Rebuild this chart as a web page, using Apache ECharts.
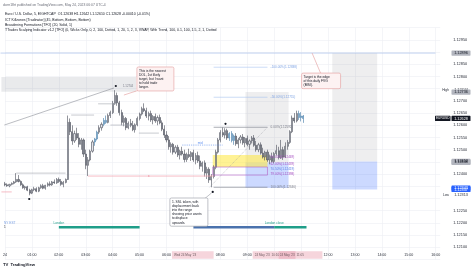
<!DOCTYPE html>
<html><head><meta charset="utf-8">
<script src="https://cdn.jsdelivr.net/npm/echarts@6/dist/echarts.min.js"></script>
<style>html,body{margin:0;padding:0;background:#fff;}#c{width:474px;height:271px;}</style>
</head><body><div id="c"></div>
<script>
// ---- DATA (EURUSD 5-minute candles, 24 May 2023) ----
const opens = [1.12360,1.12356,1.12352,1.12358,1.12362,1.12368,1.12378,1.12370,1.12356,1.12344,1.12348,1.12334,1.12322,1.12336,1.12340,1.12330,1.12344,1.12352,1.12342,1.12354,1.12360,1.12356,1.12368,1.12364,1.12378,1.12370,1.12358,1.12366,1.12378,1.12612,1.12574,1.12536,1.12566,1.12548,1.12522,1.12540,1.12482,1.12436,1.12458,1.12494,1.12532,1.12544,1.12572,1.12590,1.12604,1.12620,1.12612,1.12640,1.12652,1.12690,1.12722,1.12692,1.12652,1.12612,1.12628,1.12590,1.12608,1.12600,1.12582,1.12602,1.12628,1.12646,1.12668,1.12660,1.12638,1.12648,1.12622,1.12636,1.12618,1.12632,1.12610,1.12584,1.12560,1.12540,1.12512,1.12522,1.12490,1.12510,1.12478,1.12494,1.12482,1.12460,1.12480,1.12472,1.12488,1.12458,1.12476,1.12454,1.12432,1.12446,1.12404,1.12420,1.12376,1.12390,1.12428,1.12490,1.12540,1.12570,1.12560,1.12578,1.12548,1.12566,1.12538,1.12556,1.12524,1.12540,1.12552,1.12528,1.12546,1.12522,1.12536,1.12548,1.12518,1.12500,1.12520,1.12486,1.12470,1.12490,1.12458,1.12472,1.12452,1.12484,1.12496,1.12468,1.12500,1.12470,1.12514,1.12530,1.12574,1.12630,1.12618,1.12648,1.12632,1.12638];
const highs = [1.12368,1.12362,1.12360,1.12366,1.12372,1.12404,1.12396,1.12374,1.12362,1.12352,1.12352,1.12340,1.12340,1.12348,1.12346,1.12348,1.12358,1.12360,1.12356,1.12366,1.12370,1.12372,1.12378,1.12384,1.12386,1.12380,1.12372,1.12382,1.12640,1.12628,1.12600,1.12578,1.12590,1.12568,1.12548,1.12546,1.12500,1.12470,1.12500,1.12540,1.12548,1.12578,1.12600,1.12612,1.12630,1.12640,1.12648,1.12660,1.12700,1.12744,1.12734,1.12700,1.12664,1.12640,1.12634,1.12616,1.12626,1.12618,1.12608,1.12636,1.12652,1.12676,1.12690,1.12672,1.12656,1.12660,1.12642,1.12648,1.12640,1.12644,1.12620,1.12600,1.12576,1.12556,1.12530,1.12528,1.12518,1.12520,1.12500,1.12512,1.12500,1.12488,1.12504,1.12494,1.12500,1.12486,1.12492,1.12476,1.12452,1.12456,1.12430,1.12428,1.12400,1.12436,1.12500,1.12548,1.12580,1.12592,1.12588,1.12586,1.12572,1.12576,1.12562,1.12568,1.12548,1.12560,1.12564,1.12552,1.12558,1.12542,1.12556,1.12560,1.12536,1.12528,1.12530,1.12508,1.12496,1.12500,1.12480,1.12488,1.12490,1.12520,1.12512,1.12540,1.12512,1.12530,1.12540,1.12580,1.12640,1.12650,1.12660,1.12660,1.12654,1.12642];
const lows = [1.12350,1.12348,1.12346,1.12354,1.12358,1.12364,1.12366,1.12352,1.12340,1.12336,1.12330,1.12313,1.12318,1.12330,1.12326,1.12326,1.12340,1.12338,1.12336,1.12348,1.12350,1.12352,1.12360,1.12360,1.12364,1.12352,1.12346,1.12362,1.12376,1.12560,1.12520,1.12528,1.12540,1.12510,1.12500,1.12470,1.12420,1.12392,1.12452,1.12488,1.12516,1.12538,1.12564,1.12578,1.12596,1.12606,1.12608,1.12630,1.12646,1.12684,1.12680,1.12640,1.12600,1.12596,1.12580,1.12584,1.12592,1.12576,1.12570,1.12596,1.12620,1.12640,1.12654,1.12630,1.12620,1.12614,1.12604,1.12610,1.12600,1.12604,1.12576,1.12548,1.12530,1.12500,1.12488,1.12480,1.12482,1.12470,1.12460,1.12476,1.12448,1.12450,1.12466,1.12454,1.12450,1.12440,1.12446,1.12420,1.12410,1.12390,1.12380,1.12364,1.12346,1.12382,1.12420,1.12484,1.12530,1.12552,1.12546,1.12540,1.12536,1.12530,1.12520,1.12516,1.12506,1.12526,1.12520,1.12510,1.12514,1.12500,1.12526,1.12512,1.12492,1.12490,1.12480,1.12464,1.12456,1.12450,1.12440,1.12448,1.12444,1.12476,1.12460,1.12462,1.12458,1.12466,1.12500,1.12524,1.12568,1.12610,1.12612,1.12622,1.12616,1.12610];
const closes = [1.12356,1.12352,1.12358,1.12362,1.12368,1.12378,1.12370,1.12356,1.12344,1.12348,1.12334,1.12322,1.12336,1.12340,1.12330,1.12344,1.12352,1.12342,1.12354,1.12360,1.12356,1.12368,1.12364,1.12378,1.12370,1.12358,1.12366,1.12378,1.12612,1.12574,1.12536,1.12566,1.12548,1.12522,1.12540,1.12482,1.12436,1.12458,1.12494,1.12532,1.12544,1.12572,1.12590,1.12604,1.12620,1.12612,1.12640,1.12652,1.12690,1.12722,1.12692,1.12652,1.12612,1.12628,1.12590,1.12608,1.12600,1.12582,1.12602,1.12628,1.12646,1.12668,1.12660,1.12638,1.12648,1.12622,1.12636,1.12618,1.12632,1.12610,1.12584,1.12560,1.12540,1.12512,1.12522,1.12490,1.12510,1.12478,1.12494,1.12482,1.12460,1.12480,1.12472,1.12488,1.12458,1.12476,1.12454,1.12432,1.12446,1.12404,1.12420,1.12376,1.12390,1.12428,1.12490,1.12540,1.12570,1.12560,1.12578,1.12548,1.12566,1.12538,1.12556,1.12524,1.12540,1.12552,1.12528,1.12546,1.12522,1.12536,1.12548,1.12518,1.12500,1.12520,1.12486,1.12470,1.12490,1.12458,1.12472,1.12452,1.12484,1.12496,1.12468,1.12500,1.12470,1.12514,1.12530,1.12574,1.12630,1.12618,1.12648,1.12632,1.12638,1.12628];
const tintedCandles = [40,41,44,45,100,101,102,131,132,133];
const hourLabels = ['24','01:00','02:00','03:00','04:00','05:00','06:00','07:00','08:00','09:00','10:00','11:00','12:00','13:00','14:00','15:00','16:00'];
const hiddenTicks = ['1.12050','1.13000','1.12900','1.12750','1.12450','1.12350','1.12300'];
// fib levels: [label, price]
const fibLevels = [['-100.00%',1.12838],['-50.00%',1.12715],['0.00%',1.12592],['50.00%',1.12469],['62.00%',1.12439],['70.50%',1.12419],['79.00%',1.12398],['100.00%',1.12346]];
// position tools: [startSlot, endSlot, target, entry, stop]
const positions = [[107.2,126.4,1.12736,1.12448,1.12343],[145.9,165.9,1.12896,1.12452,1.12337]];
// sessions: [name, startSlot, endSlot]
const sessions = [['London',24,60],['New York',84,120],['London close',120,134.4]];

const FF = '"Liberation Sans", Arial, sans-serif';
const N_SLOTS = 195;
const slots = Array.from({length:N_SLOTS},(_,i)=>{const m=i*5;return String(Math.floor(m/60)).padStart(2,'0')+':'+String(m%60).padStart(2,'0');});
const candleData = opens.map((o,i)=>{
  const v=[o,closes[i],lows[i],highs[i]];
  if (tintedCandles.includes(i)) return {value:v,itemStyle:{color:'#bcd8ec',color0:'#6fa6cf',borderColor:'#3f79a6',borderColor0:'#3f79a6'}};
  return v;
});

const chart = echarts.init(document.getElementById('c'), null, {renderer:'canvas', width:474, height:271});
chart.setOption({
  animation:false,
  backgroundColor:'#ffffff',
  grid:{left:3.7, top:27.7, width:436.5, height:231.8},
  xAxis:[{type:'category', data:slots, boundaryGap:false, axisLine:{show:false}, axisTick:{show:false},
    axisLabel:{inside:true, margin:2.3, interval:(i)=>i%12===0, formatter:(v,i)=>hourLabels[i/12]||'', fontSize:3.6, color:'#2a2e39', fontFamily:FF},
    splitLine:{show:true, interval:(i)=>i%12===0, lineStyle:{color:'#eceff4', width:0.6}}},
   {type:'value', min:0, max:N_SLOTS-1, show:false}],
  yAxis:[{type:'value', position:'right', min:1.1205, max:1.13, interval:0.0005,
    axisLine:{show:false}, axisTick:{show:false},
    axisLabel:{margin:13, fontSize:3.9, color:'#2a2e39', fontFamily:FF, formatter:v=>{const s=v.toFixed(5);return hiddenTicks.includes(s)?'':s;}},
    splitLine:{lineStyle:{color:'#eceff4', width:0.6}}}],
  series:[{type:'candlestick', xAxisIndex:0, yAxisIndex:0, data:candleData, barWidth:1.6, clip:false, z:3,
    itemStyle:{color:'#e4e5ea', color0:'#80838d', borderColor:'#4a4e59', borderColor0:'#4a4e59', borderWidth:0.6}}]
});

const F = {xAxisIndex:1, yAxisIndex:0};
const px = (i,p)=>chart.convertToPixel(F,[i,p]);
const els = [];
function seg(i1,p1,i2,p2,color,w,dash,z){const a=px(i1,p1),b=px(i2,p2);els.push({type:'line',silent:true,z:z||5,shape:{x1:a[0],y1:a[1],x2:b[0],y2:b[1]},style:{stroke:color,lineWidth:w||0.6,lineDash:dash||null}});}
function box(i1,p1,i2,p2,fill,stroke,z){const a=px(i1,p1),b=px(i2,p2);els.push({type:'rect',silent:true,z:z||1,shape:{x:Math.min(a[0],b[0]),y:Math.min(a[1],b[1]),width:Math.abs(b[0]-a[0]),height:Math.abs(b[1]-a[1])},style:{fill:fill,stroke:stroke||null,lineWidth:0.6}});}
function txt(x,y,s,size,color,align,va,weight,z){els.push({type:'text',silent:true,z:z||8,x:x,y:y,style:{text:s,font:(weight||'normal')+' '+size+'px '+FF,fill:color,align:align||'left',textAlign:align||'left',verticalAlign:va||'middle',textVerticalAlign:va||'middle'}});}
function prect(x,y,w,h,fill,stroke,r,z){els.push({type:'rect',silent:true,z:z||8,shape:{x:x,y:y,width:w,height:h,r:r||0},style:{fill:fill,stroke:stroke||null,lineWidth:0.6}});}

// gray liquidity band & diagonal
box(-1.6,1.12798,58.4,1.12737,'rgba(120,123,134,0.16)',null,1);
seg(-0.3,1.12601,48.6,1.12753,'#8d9099',0.6);
// top target line
seg(-2,1.12896,191.9,1.12896,'#a8bfe9',0.7);
// position tools
positions.forEach(p=>{box(p[0],p[2],p[1],p[3],'rgba(120,123,134,0.13)',null,1);box(p[0],p[3],p[1],p[4],'rgba(41,98,255,0.24)',null,1);});
// yellow & purple zones
box(92.6,1.12478,117,1.12429,'rgba(255,232,60,0.55)',null,2);
box(92.6,1.12429,117,1.12396,null,'#b35fc4',4);
// fib lines
seg(93,1.12838,117,1.12838,'#a9c4f0',0.6);
seg(93,1.12715,117,1.12715,'#a9c4f0',0.6);
seg(93,1.12592,117,1.12592,'#9598a1',0.8);
seg(93,1.12346,117,1.12346,'#9598a1',0.8);
seg(91.2,1.12346,117,1.12592,'#9598a1',0.5,[1,1]);
const fibColors = {'-100.00%':'#7ea3e3','-50.00%':'#7ea3e3','0.00%':'#787b86','50.00%':'#a64fc0','62.00%':'#a64fc0','70.50%':'#5b7fe6','79.00%':'#a64fc0','100.00%':'#787b86'};
fibLevels.forEach(f=>{const a=px(118.4,f[1]);txt(a[0],a[1],f[0]+'('+f[1].toFixed(5)+')',3.1,fibColors[f[0]]);});
// broadening formation & swing lines
seg(5,1.12404,27,1.12404,'#a3a6af',0.6);
seg(29.5,1.12642,39.7,1.12642,'#a3a6af',0.6);
seg(41.5,1.12688,49.5,1.12688,'#a3a6af',0.6);
seg(47,1.12601,56,1.12601,'#a3a6af',0.6);
seg(59.7,1.12568,68.6,1.12568,'#a3a6af',0.6);
seg(-1.6,1.12327,3,1.12327,'#f2a1ad',0.7);
seg(37,1.12392,93,1.12392,'#f2a1ad',0.7);
(()=>{const a=px(64.1,1.12392);txt(a[0],a[1],'x',3,'#e57a8a','center');})();
seg(79,1.12519,97,1.12519,'#5b8def',0.6,[1.2,1]);
(()=>{const a=px(87,1.12519);txt(a[0],a[1]-2,'mid',3,'#5b8def','center');})();
// markers
[[49.4,1.12761],[10.8,1.12298],[98.3,1.12606],[92.6,1.12327]].forEach(m=>{const a=px(m[0],m[1]);els.push({type:'circle',silent:true,z:9,shape:{cx:a[0],cy:a[1],r:1.1},style:{fill:'#131722'}});});
(()=>{const a=px(52.6,1.12762);txt(a[0],a[1],'1.12744',2.8,'#787b86');})();
// callouts
function callout(i,p,w,lines,fill,stroke,ti,tp,ax,ay){
  const a=px(i,p), t=px(ti,tp);
  els.push({type:'line',silent:true,z:9,shape:{x1:a[0]+ax,y1:a[1]+ay,x2:t[0],y2:t[1]},style:{stroke:stroke,lineWidth:0.6}});
  const h=lines.length*4.2+3;
  prect(a[0],a[1],w,h,fill,stroke,1.5,10);
  txt(a[0]+2,a[1]+1.6,lines.join('\n'),3.3,'#131722','left','top','normal',11);
  els[els.length-1].style.lineHeight=4.2;
}
callout(58.8,1.12839,37,['This is the nearest','DOL, 1st likely','target, but I want','to hold trade','longer.'],'#fdf2f2','#e39a9a',53,1.12724,1,23.5);
callout(132.2,1.12814,39,['Target is the edge','of this daily FVG','(BISI).'],'#fdf2f2','#e39a9a',136.9,1.12896,19,0);
callout(73.5,1.12302,38,['1. SSL taken, with','displacement back','into the range','showing price wants','to displace','upwards.'],'#ffffff','#9598a1',92.1,1.12323,35,0.5);
// sessions
sessions.forEach((s,k)=>{const a=px(s[1],1.12182),b=px(s[2],1.12182);const col=s[0]==='New York'?'#4a72ad':'#1f9e89';
  els.push({type:'line',silent:true,z:6,shape:{x1:a[0],y1:a[1],x2:b[0],y2:b[1]},style:{stroke:col,lineWidth:2.4}});
  txt(a[0],a[1]-4.3,s[0],3.2,col,'center');});
(()=>{const a=px(0,1.12182);txt(a[0]-1,a[1]-4.3,'NY EST',3.2,'#7ea3e3','left');txt(a[0]-1,a[1],'1',3.2,'#2a2e39','left');})();
// time-axis selection highlight
(()=>{const a=px(74.4,1.121),b=px(93,1.121);prect(a[0],251.2,b[0]-a[0],7.6,'#f6d5dc',null,0,7);txt(a[0]+2,255,'Wed 24 May \'23',3.1,'#6d5b60');
const c=px(110.4,1.121),d=px(141.5,1.121);prect(c[0],251.2,d[0]-c[0],7.6,'#f6d5dc',null,0,7);const e=px(122,1.121),f=px(129.5,1.121);prect(e[0],251.2,f[0]-e[0],7.6,'#eebcc8',null,0,7);
txt(c[0]+2,255,'24 May \'23  10:10',3.1,'#6d5b60');txt(e[0]+1,255,'24 May \'23  11:05',3.1,'#6d5b60');})();
// price scale labels
function plabel(p,s,bg,fg){const y=px(0,p)[1];prect(451.5,y-2.6,19,5.2,bg,null,0.6,12);txt(461,y,s,3.8,fg,'center','middle','normal',13);}
plabel(1.12896,'1.12896','#b2b5be','#131722');
plabel(1.12736,'1.12736','#b2b5be','#131722');
plabel(1.12628,'1.12628','#131722','#ffffff');
plabel(1.12452,'1.12452','#b2b5be','#131722');
plabel(1.12448,'1.12448','#b2b5be','#131722');
plabel(1.12343,'1.12343','#2962ff','#ffffff');
plabel(1.12337,'1.12337','#2962ff','#ffffff');
(()=>{const yH=px(0,1.12744)[1], yL=px(0,1.12313)[1], yE=px(0,1.12628)[1];
 txt(461,yH,'1.12744',3.8,'#2a2e39','center');txt(449,yH,'High',3.3,'#2a2e39','right');
 txt(461,yL,'1.12313',3.8,'#2a2e39','center');txt(449,yL,'Low',3.3,'#2a2e39','right');
 prect(435,yE-2.6,15.5,5.2,'#131722',null,0.6,12);txt(442.7,yE,'EURUSD',3.2,'#ffffff','center','middle','normal',13);})();
// header / legend
txt(3,5,'dorrr18rt published on TradingView.com, May 24, 2023 06:07 UTC-4',3.4,'#6a6d78');
txt(5,14,'Euro / U.S. Dollar, 5, EIGHTCAP  O1.12638 H1.12642 L1.12610 C1.12628 -0.00010 (-0.01%)',3.5,'#131722');
txt(5,19.7,'ICT Killzones [Tradinator] (45, Bottom, Bottom, Bottom)',3.5,'#131722');
txt(5,25.1,'Broadening Formations [TFO] (20, Solid, 1)',3.5,'#131722');
txt(5,30.5,'TTrades Scalping Indicator v1.2 [TFO] (0, Wicks Only, 0, 2, 100, Dotted, 1, 20, 1, 2, 3, VWAP, With Trend, 100, 0.1, 100, 1.5, 2, 1, Dotted',3.5,'#131722');
// footer logo
txt(3,265,'TV',4.2,'#131722','left','middle','bold');
txt(10.5,265,'TradingView',4.2,'#131722','left','middle','bold');

chart.setOption({graphic:{elements:els}});
</script></body></html>
